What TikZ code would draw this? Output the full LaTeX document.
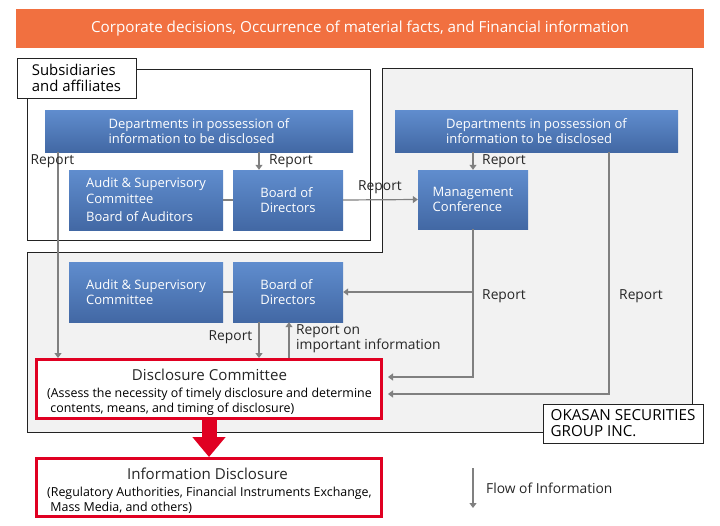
\documentclass[tikz,border=0pt]{standalone}
\usepackage{fontspec}
\setmainfont{Open Sans}
\usetikzlibrary{arrows.meta,calc}
\definecolor{orng}{RGB}{241,112,64}
\definecolor{bluetop}{RGB}{96,141,206}
\definecolor{bluebot}{RGB}{66,104,164}
\definecolor{redc}{RGB}{224,0,34}
\definecolor{grayfill}{RGB}{242,242,242}
\definecolor{connc}{RGB}{128,128,128}
\definecolor{framec}{RGB}{35,35,35}
\begin{document}
\begin{tikzpicture}[x=1pt,y=-1pt,
  bluebox/.style={top color=bluetop,bottom color=bluebot,draw=none,text=white,inner sep=0pt,align=left,font=\fontsize{13}{15.5}\selectfont},
  conn/.style={draw=connc,line width=1.2pt},
  arr/.style={conn,-{Triangle[width=7pt,length=5pt]}},
  lbl/.style={font=\fontsize{13.8}{15}\selectfont,inner sep=0pt,text=black!85,align=left},
  frm/.style={draw=framec,line width=1pt},
  redbox/.style={draw=redc,line width=3pt,fill=white,inner sep=0pt},
  big/.style={font=\fontsize{15.1}{17}\selectfont,inner sep=0pt,text=black!85},
  small/.style={font=\fontsize{12.4}{15}\selectfont,inner sep=0pt,text=black,align=left}]
\useasboundingbox (0,0) rectangle (720,525);

% banner
\node[fill=orng,minimum width=688pt,minimum height=39pt,inner sep=0pt,text=white,font=\fontsize{15.2}{17}\selectfont] (banner) at (360,28.5) {Corporate decisions, Occurrence of material facts, and Financial information};

% group area
\filldraw[frm,fill=grayfill] (382,68) -- (692,68) -- (692,432) -- (27,432) -- (27,252) -- (382,252) -- cycle;
% subsidiaries area
\draw[frm] (27,69) rectangle (370,240);
\node[frm,fill=white,minimum width=119pt,minimum height=40pt,inner sep=0pt,align=left,font=\fontsize{14.9}{16}\selectfont] (subs) at (76.5,78) {Subsidiaries\\and affiliates};
\node[frm,fill=white,minimum width=160pt,minimum height=39pt,inner sep=0pt,align=left,font=\fontsize{15.2}{16}\selectfont] (okasan) at (623,423.5) {OKASAN SECURITIES\\GROUP INC.};

% blue boxes
\node[bluebox,minimum width=308pt,minimum height=42pt] (deptL) at (199,131) {Departments in possession of\\information to be disclosed};
\node[bluebox,minimum width=154pt,minimum height=60pt] (auditT) at (146,200) {Audit \& Supervisory\\Committee\\[3pt]Board of Auditors};
\node[bluebox,minimum width=110pt,minimum height=60pt] (boardT) at (288,200) {Board of\\Directors};
\node[bluebox,minimum width=283pt,minimum height=42pt] (deptR) at (536.5,131) {Departments in possession of\\information to be disclosed};
\node[bluebox,minimum width=110pt,minimum height=59pt] (mgmt) at (473,199.5) {Management\\Conference};
\node[bluebox,minimum width=154pt,minimum height=60pt] (auditB) at (146,292) {Audit \& Supervisory\\Committee};
\node[bluebox,minimum width=110pt,minimum height=60pt] (boardB) at (288,292) {Board of\\Directors};

% red boxes
\node[redbox,minimum width=345pt,minimum height=59pt] (disc) at (209,389) {};
\node[big] (discT) at (209.5,375) {Disclosure Committee};
\node[small,anchor=west] (discS) at (47,401.5) {(Assess the necessity of timely disclosure and determine\\\ contents, means, and timing of disclosure)};
\node[redbox,minimum width=345pt,minimum height=58pt] (info) at (209,487.5) {};
\node[big] (infoT) at (207.5,474) {Information Disclosure};
\node[small,anchor=west] (infoS) at (47,500.5) {(Regulatory Authorities, Financial Instruments Exchange,\\\ Mass Media, and others)};

% helper coordinates
\coordinate (xL) at (58,0);
\coordinate (xB) at (259,0);
\coordinate (xU) at (289,0);
\coordinate (xR) at (609,0);
\coordinate (tipx) at (388,0);
\coordinate (m1) at (473,377);
\coordinate (m2) at (473,292);
\coordinate (r1) at (609,394);

% connectors
\draw[arr] (deptL.south -| xL) -- (disc.north -| xL);
\node[lbl] (rep1) at (52.5,161) {Report};
\draw[arr] (deptL.south -| xB) -- (boardT.north -| xB);
\node[lbl] (rep2) at (291,161) {Report};
\draw[conn] (auditT.east) -- (boardT.west);
\draw[arr] (boardT.east) -- (mgmt.west);
\node[lbl] (rep3) at (380,187) {Report};
\draw[arr] (deptR.south -| mgmt.north) -- (mgmt.north);
\node[lbl] (rep4) at (504,161) {Report};
\draw[conn] (auditB.east) -- (boardB.west);
\draw[arr] (mgmt.south) -- (m1) -- (m1 -| tipx);
\draw[arr] (m2) -- (boardB.east);
\node[lbl] (rep5) at (504,296) {Report};
\draw[arr] (deptR.south -| xR) -- (r1) -- (r1 -| tipx);
\node[lbl] (rep6) at (641,296) {Report};
\draw[arr] (boardB.south -| xB) -- (disc.north -| xB);
\node[lbl] (rep7) at (230.5,337) {Report};
\draw[arr] (disc.north -| xU) -- (boardB.south -| xU);
\node[lbl,anchor=west] (rep8) at (296,338.5) {Report on\\important information};

% big arrow
\draw[redc,line width=15pt,-{Triangle[width=32pt,length=20pt]}] (disc.south) -- (info.north);

% legend
\coordinate (lg1) at (473,468);
\coordinate (lg2) at (473,508);
\draw[arr] (lg1) -- (lg2);
\node[lbl,anchor=west] (legT) at (486,488) {Flow of Information};
\end{tikzpicture}
\end{document}
